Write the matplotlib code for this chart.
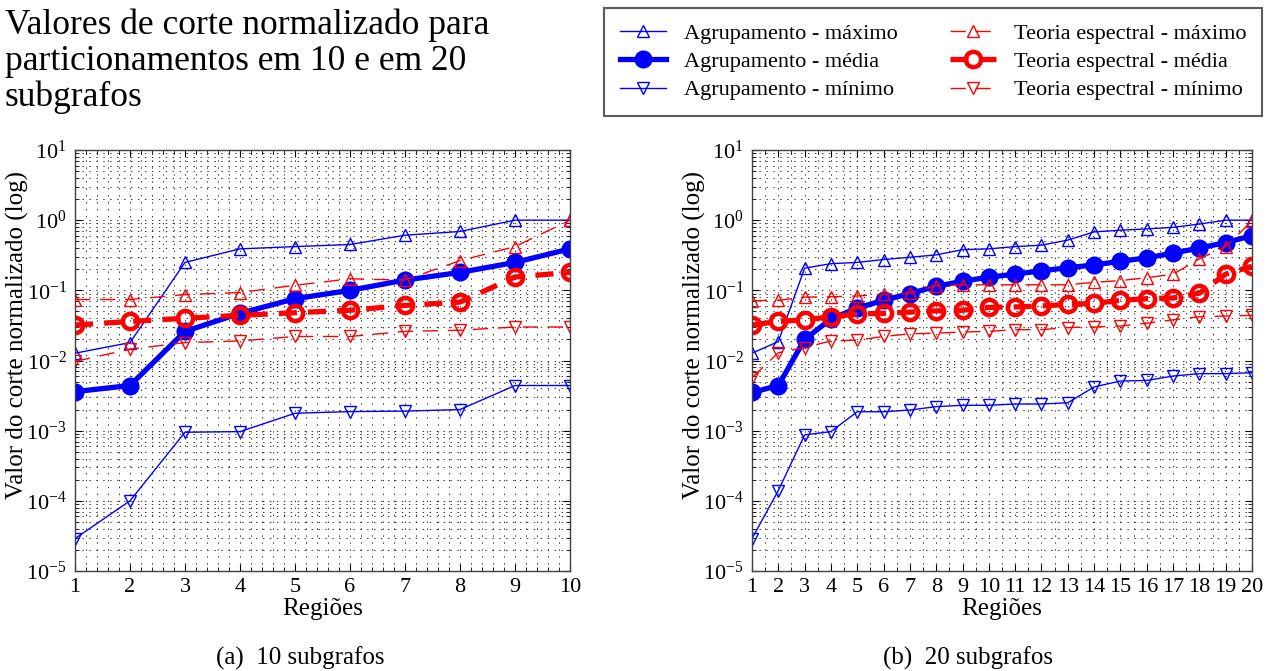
import matplotlib
matplotlib.use("Agg")
import matplotlib.pyplot as plt
import numpy as np
from matplotlib.ticker import LogLocator, MultipleLocator, NullFormatter

plt.rcParams['font.family'] = ['Liberation Serif', 'DejaVu Serif']
plt.rcParams['mathtext.fontset'] = 'custom'
plt.rcParams['mathtext.rm'] = 'Liberation Serif'
plt.rcParams['mathtext.it'] = 'Liberation Serif:italic'
plt.rcParams['lines.scale_dashes'] = False

# --- 10 subgrafos ---
regioes_10 = list(range(1, 11))
agr_max_10 = [0.0127, 0.018, 0.25, 0.39, 0.42, 0.45, 0.61, 0.69, 1.0, 1.0]
agr_med_10 = [0.0036, 0.0044, 0.026, 0.047, 0.076, 0.10, 0.14, 0.18, 0.25, 0.39]
agr_min_10 = [2.9e-5, 1.0e-4, 9.5e-4, 9.7e-4, 1.77e-3, 1.87e-3, 1.9e-3, 2.0e-3, 4.4e-3, 4.4e-3]
esp_max_10 = [0.074, 0.074, 0.087, 0.093, 0.118, 0.146, 0.14, 0.265, 0.42, 1.0]
esp_med_10 = [0.032, 0.036, 0.040, 0.044, 0.048, 0.052, 0.061, 0.068, 0.155, 0.18]
esp_min_10 = [0.0097, 0.0145, 0.018, 0.019, 0.022, 0.022, 0.026, 0.027, 0.030, 0.030]

# --- 20 subgrafos ---
regioes_20 = list(range(1, 21))
agr_max_20 = [0.0127, 0.0186, 0.207, 0.24, 0.25, 0.275, 0.296, 0.32, 0.38, 0.39,
              0.42, 0.44, 0.52, 0.68, 0.72, 0.75, 0.79, 0.88, 1.0, 1.0]
agr_med_20 = [0.0035, 0.0044, 0.020, 0.039, 0.056, 0.072, 0.090, 0.114, 0.135, 0.154,
              0.17, 0.19, 0.21, 0.23, 0.26, 0.29, 0.34, 0.40, 0.48, 0.60]
agr_min_20 = [2.9e-5, 1.4e-4, 8.7e-4, 9.7e-4, 1.86e-3, 1.86e-3, 1.97e-3, 2.2e-3, 2.3e-3, 2.3e-3,
              2.4e-3, 2.4e-3, 2.5e-3, 4.2e-3, 5.1e-3, 5.2e-3, 6.0e-3, 6.5e-3, 6.5e-3, 6.7e-3]
esp_max_20 = [0.071, 0.072, 0.080, 0.081, 0.083, 0.088, 0.091, 0.117, 0.12, 0.12,
              0.12, 0.12, 0.12, 0.13, 0.138, 0.151, 0.17, 0.28, 0.42, 0.97]
esp_med_20 = [0.032, 0.036, 0.038, 0.042, 0.046, 0.047, 0.049, 0.051, 0.052, 0.057,
              0.058, 0.060, 0.063, 0.065, 0.072, 0.076, 0.078, 0.091, 0.17, 0.22]
esp_min_20 = [0.0057, 0.0129, 0.0153, 0.019, 0.0195, 0.022, 0.024, 0.0245, 0.0255, 0.026,
              0.0275, 0.0275, 0.0295, 0.030, 0.031, 0.034, 0.038, 0.042, 0.043, 0.044]

labels = ['Agrupamento - máximo', 'Agrupamento - média', 'Agrupamento - mínimo',
          'Teoria espectral - máximo', 'Teoria espectral - média', 'Teoria espectral - mínimo']

thin_dash = (11, 7)
thick_dash = (13, 8)


def draw(ax, x, amax, amed, amin, emax, emed, emin, xminor):
    h = []
    h += ax.plot(x, amax, color='blue', lw=1.0, marker='^', ms=8, mfc='none', mec='blue', mew=1.0)
    h += ax.plot(x, amed, color='blue', lw=3.8, marker='o', ms=12, mfc='blue', mec='blue')
    h += ax.plot(x, amin, color='blue', lw=1.0, marker='v', ms=8, mfc='none', mec='blue', mew=1.0)
    h += ax.plot(x, emax, color='red', lw=1.0, ls='--', dashes=thin_dash, marker='^', ms=8,
                 mfc='none', mec='red', mew=1.0)
    h += ax.plot(x, emed, color='red', lw=3.8, ls='--', dashes=thick_dash, marker='o', ms=11,
                 mfc='none', mec='red', mew=3.2)
    h += ax.plot(x, emin, color='red', lw=1.0, ls='--', dashes=thin_dash, marker='v', ms=8,
                 mfc='none', mec='red', mew=1.0)

    ax.set_yscale('log')
    ax.set_ylim(1e-5, 10)
    ax.set_xlim(x[0], x[-1])
    ax.set_xticks(x)
    ax.xaxis.set_minor_locator(MultipleLocator(xminor))
    ax.yaxis.set_major_locator(LogLocator(base=10, numticks=10))
    ax.yaxis.set_minor_locator(LogLocator(base=10, subs=np.arange(2, 10), numticks=20))
    ax.yaxis.set_minor_formatter(NullFormatter())
    ax.grid(True, which='both', color='0.2', lw=0.7, ls=(0, (1, 4)))
    ax.tick_params(which='both', direction='in', top=True, right=True, labelsize=16)
    ax.tick_params(axis='x', pad=5)
    ax.tick_params(axis='y', pad=6)
    ax.tick_params(which='major', length=5)
    ax.tick_params(which='minor', length=3)
    for s in ax.spines.values():
        s.set_linewidth(1.0)
        s.set_color('0.25')
    ax.set_xlabel('Regiões', fontsize=18, labelpad=1)
    ax.set_ylabel('Valor do corte normalizado (log)', fontsize=18)
    return h


fig = plt.figure(figsize=(12.74, 6.71), dpi=100)
ax1 = fig.add_axes([75 / 1274, 1 - 571 / 671, 495 / 1274, 421 / 671])
ax2 = fig.add_axes([752 / 1274, 1 - 571 / 671, 500 / 1274, 421 / 671])

handles = draw(ax1, regioes_10, agr_max_10, agr_med_10, agr_min_10,
               esp_max_10, esp_med_10, esp_min_10, 0.2)
draw(ax2, regioes_20, agr_max_20, agr_med_20, agr_min_20,
     esp_max_20, esp_med_20, esp_min_20, 0.5)
ax1.yaxis.set_label_coords((29 - 75) / 495, 0.56)
ax2.yaxis.set_label_coords((706 - 752) / 500, 0.56)

fig.text(5 / 1274, 1 - 9 / 671, 'Valores de corte normalizado para\nparticionamentos em 10 e em 20\nsubgrafos',
         fontsize=25.5, ha='left', va='top', linespacing=1.1)

leg = fig.legend(handles, labels, ncol=2, loc='upper left',
                 bbox_to_anchor=(604 / 1274, 1 - 112 / 671, 658 / 1274, 104 / 671),
                 mode='expand', fontsize=16, frameon=True, fancybox=False,
                 handlelength=2.1, handletextpad=0.8, borderpad=0.7, labelspacing=0.34,
                 columnspacing=1.5, borderaxespad=0)
leg.get_frame().set_edgecolor('0.2')
leg.get_frame().set_linewidth(1.5)

fig.text(300 / 1274, 1 - 658 / 671, '(a)  10 subgrafos', fontsize=18, ha='center', va='center')
fig.text(968 / 1274, 1 - 658 / 671, '(b)  20 subgrafos', fontsize=18, ha='center', va='center')

fig.savefig('out.png', dpi=100)
